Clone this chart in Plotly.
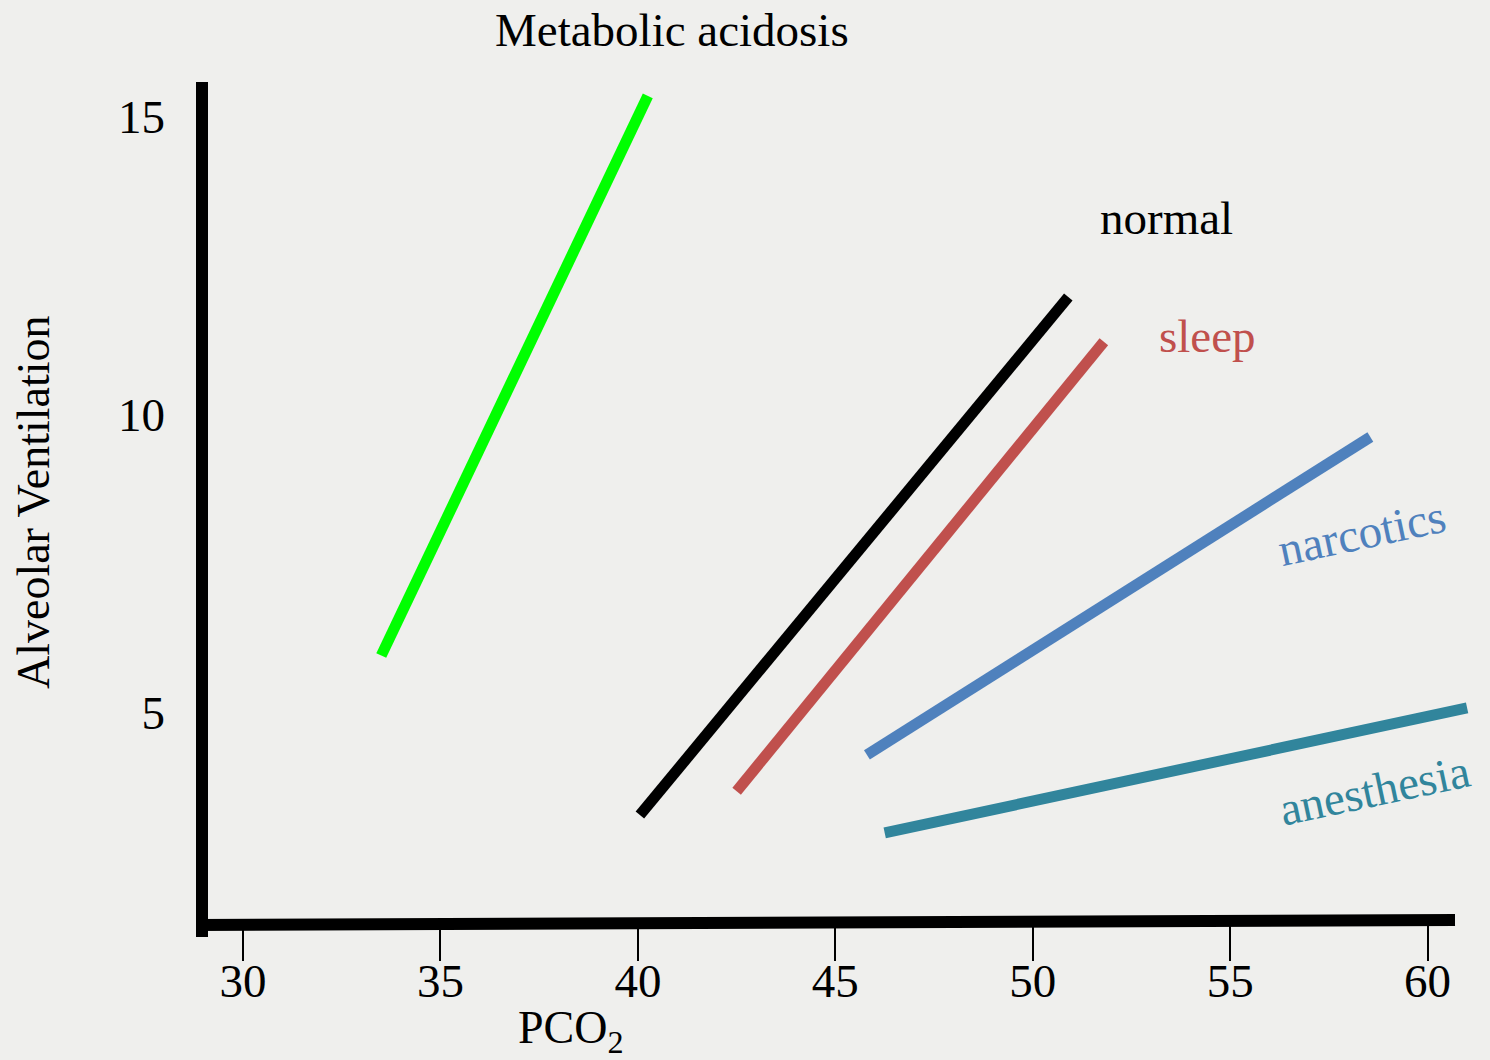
import plotly.graph_objects as go

# CO2 response curves: alveolar ventilation versus arterial PCO2
series_names = ["Metabolic acidosis", "normal", "sleep", "narcotics", "anesthesia"]
pco2_acidosis = [33.5, 40.25]
va_acidosis = [5.95, 15.35]
pco2_normal = [40.05, 50.9]
va_normal = [3.27, 11.97]
pco2_sleep = [42.5, 51.8]
va_sleep = [3.67, 11.22]
pco2_narcotics = [45.8, 58.55]
va_narcotics = [4.28, 9.62]
pco2_anesthesia = [46.25, 61.0]
va_anesthesia = [2.97, 5.07]

x_ticks = [30, 35, 40, 45, 50, 55, 60]
y_ticks = [5, 10, 15]

FONT = "Liberation Serif, Times New Roman, serif"
BG = "#efefed"
colors = {
    "Metabolic acidosis": "#00ff00",
    "normal": "#000000",
    "sleep": "#c0504d",
    "narcotics": "#4f81bd",
    "anesthesia": "#31859c",
}

fig = go.Figure()
for name, xs, ys in [
    ("Metabolic acidosis", pco2_acidosis, va_acidosis),
    ("normal", pco2_normal, va_normal),
    ("sleep", pco2_sleep, va_sleep),
    ("narcotics", pco2_narcotics, va_narcotics),
    ("anesthesia", pco2_anesthesia, va_anesthesia),
]:
    fig.add_trace(go.Scatter(
        x=xs, y=ys, mode="lines", name=name,
        line=dict(color=colors[name], width=11),
        hoverinfo="skip", showlegend=False,
    ))

# heavy hand-drawn style axes
fig.add_shape(type="line", xref="paper", yref="paper",
              x0=0.0, y0=-0.0153, x1=0.0, y1=0.9917,
              line=dict(color="black", width=12))
fig.add_shape(type="line", xref="paper", yref="paper",
              x0=-0.0039, y0=-0.0012, x1=0.9843, y1=0.0047,
              line=dict(color="black", width=12))

# curve labels
label_font = dict(family=FONT, size=47)
centered = dict(showarrow=False, xanchor="center", yanchor="middle")
fig.add_annotation(x=0.369, y=1.053, xref="paper", yref="paper",
                   text="Metabolic acidosis",
                   font=dict(label_font, color="black"), **centered)
fig.add_annotation(x=53.39, y=13.29, text="normal",
                   font=dict(label_font, color="black"), **centered)
fig.add_annotation(x=54.43, y=11.32, text="sleep",
                   font=dict(label_font, color=colors["sleep"]), **centered)
fig.add_annotation(x=58.33, y=8.01, text="narcotics", textangle=-12,
                   font=dict(label_font, color=colors["narcotics"]), **centered)
fig.add_annotation(x=58.66, y=3.69, text="anesthesia", textangle=-12,
                   font=dict(label_font, color=colors["anesthesia"]), **centered)

# axis titles
fig.add_annotation(x=0.29, y=-0.126, xref="paper", yref="paper",
                   text="PCO<sub>2</sub>",
                   font=dict(family=FONT, size=46, color="black"), **centered)
fig.add_annotation(x=-0.1328, y=0.497, xref="paper", yref="paper",
                   text="Alveolar Ventilation", textangle=-90,
                   font=dict(family=FONT, size=46, color="black"), **centered)

fig.update_xaxes(
    range=[28.96, 61.2], tickvals=x_ticks, ticktext=[str(v) for v in x_ticks],
    ticks="outside", ticklen=36, tickwidth=2, tickcolor="black",
    ticklabelstandoff=-20,
    showgrid=False, zeroline=False, showline=False,
    tickfont=dict(family=FONT, size=47, color="black"),
)
fig.update_yaxes(
    range=[1.44, 15.7], tickvals=y_ticks, ticktext=[str(v) for v in y_ticks],
    ticks="", ticklabelstandoff=36,
    showgrid=False, zeroline=False, showline=False,
    tickfont=dict(family=FONT, size=47, color="black"),
)
fig.update_layout(
    width=1490, height=1060,
    margin=dict(l=202, r=15, t=75, b=136),
    paper_bgcolor=BG, plot_bgcolor=BG,
)

fig.write_html("out.html")
